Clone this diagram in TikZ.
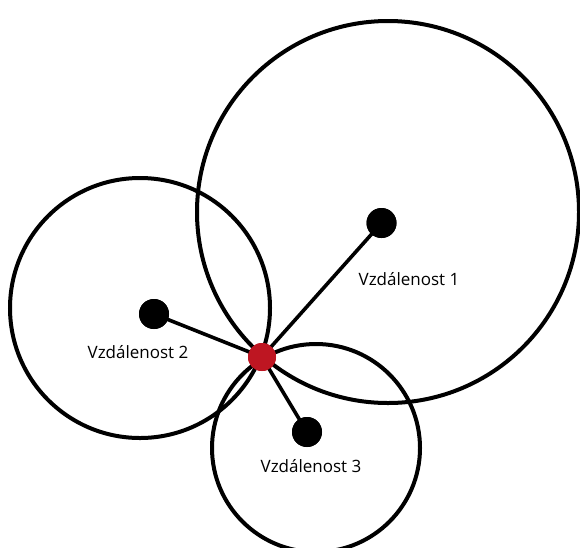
\documentclass[tikz,border=0pt]{standalone}
\usepackage{fontspec}
\setmainfont{Open Sans}
\definecolor{dotred}{RGB}{190,22,34}
\begin{document}
\begin{tikzpicture}[x=1pt,y=-1pt,
  ring/.style={draw=black,line width=4pt},
  link/.style={draw=black,line width=3.6pt},
  blackdot/.style={circle,fill=black,inner sep=0pt,minimum size=30pt},
  reddot/.style={circle,fill=dotred,inner sep=0pt,minimum size=28pt},
  lbl/.style={font=\fontsize{17}{20}\selectfont,inner sep=0pt}]
\useasboundingbox (0,0) rectangle (580,547);
\clip (0,0) rectangle (580,547);
\draw[ring] (388,212) circle (191);
\draw[ring] (140,308) circle (130);
\draw[ring] (316,448) circle (104);
\node[reddot] (p) at (262,357) {};
\node[blackdot] (c1) at (381.5,223) {};
\node[blackdot] (c2) at (154,314) {};
\node[blackdot] (c3) at (307,432) {};
\draw[link] (c1.center) -- (p.center);
\draw[link] (c2.center) -- (p.center);
\draw[link] (c3.center) -- (p.center);
\node[reddot] at (p) {};
\node[blackdot] at (c1) {};
\node[blackdot] at (c2) {};
\node[blackdot] at (c3) {};
\node[lbl] (l1) at (409,279) {Vzdálenost 1};
\node[lbl] (l2) at (138,352) {Vzdálenost 2};
\node[lbl] (l3) at (311,466) {Vzdálenost 3};
\end{tikzpicture}
\end{document}
